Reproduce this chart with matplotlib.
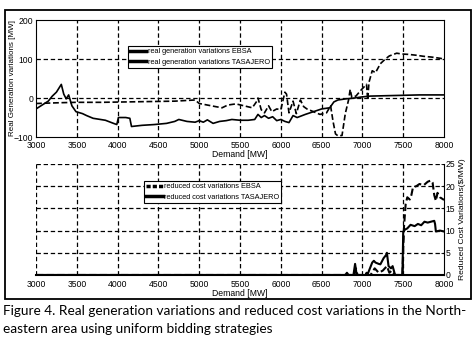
import matplotlib
matplotlib.use("Agg")
import matplotlib.pyplot as plt
from matplotlib.lines import Line2D
from matplotlib.patches import Rectangle

# --- dados ---
# painel superior: variações de geração real [MW]
dem_ebsa = [3000, 3150, 3300, 3500, 3800, 4100, 4400, 4700, 4950, 5000, 5100, 5200, 5280,
            5350, 5450, 5550, 5650, 5700, 5720, 5760, 5800, 5850, 5890, 5950, 6000, 6050,
            6070, 6100, 6150, 6190, 6240, 6280, 6320, 6400, 6480, 6560, 6610, 6640, 6670,
            6700, 6750, 6790, 6830, 6850, 6870, 6920, 6990, 7050, 7065, 7080, 7120, 7160,
            7220, 7280, 7330, 7420, 7480, 7560, 7650, 7750, 7850, 7950, 8000]
gen_ebsa = [-14, -13, -12, -11, -11, -10, -9, -8, -5, -14, -18, -22, -25,
            -18, -15, -20, -25, -10, 0, -30, -38, -20, -35, -28, -30, 15,
            10, -38, -8, -40, -5, -22, -28, -35, -42, -38, -20, -60, -92,
            -97, -96, -40, -5, 22, 2, 5, 22, 35, -5, 40, 70, 65,
            88, 100, 108, 115, 113, 112, 110, 107, 105, 102, 100]

dem_tasa = [3000, 3090, 3150, 3200, 3250, 3310, 3340, 3370, 3400, 3440, 3490, 3570, 3620,
            3700, 3850, 3950, 3990, 4010, 4100, 4150, 4170, 4300, 4450, 4600, 4700, 4750,
            4850, 4950, 5000, 5050, 5100, 5170, 5250, 5330, 5400, 5500, 5600, 5680, 5720,
            5760, 5800, 5850, 5900, 5950, 6000, 6050, 6100, 6150, 6200, 6300, 6400, 6500,
            6600, 6650, 6700, 6800, 6900, 7000, 7100, 7300, 7500, 7700, 8000]
gen_tasa = [-28, -16, -8, 5, 15, 35, 10, -2, 8, -20, -35, -40, -45,
            -52, -57, -65, -68, -50, -50, -52, -73, -70, -68, -65, -60, -55,
            -60, -62, -58, -62, -56, -65, -60, -58, -55, -57, -57, -55, -42,
            -50, -45, -52, -48, -58, -55, -60, -63, -45, -50, -42, -35, -28,
            -25, -10, -5, -2, 0, 3, 5, 6, 7, 8, 8]

# painel inferior: variações de custo reduzido [$/MW]
dem_cost_ebsa = [3000, 6800, 6900, 6920, 6940, 7100, 7150, 7200, 7250, 7300, 7330, 7360,
                 7400, 7490, 7510, 7530, 7550, 7580, 7600, 7620, 7660, 7700, 7750, 7800,
                 7840, 7860, 7880, 7900, 7920, 7950, 8000]
cost_ebsa = [0, 0, 0, 1.5, 0, 0, 1.5, 0.5, 1.0, 2.0, 0.5, 1.0,
             0, 0, 11, 16, 17.5, 17, 18, 19.8, 20.0, 20.5, 20.2, 21,
             21.3, 20.8, 18, 16.7, 18.5, 17.5, 16.9]

dem_cost_tasa = [3000, 6790, 6810, 6830, 6890, 6910, 6930, 7040, 7050, 7060, 7120, 7140,
                 7160, 7200, 7220, 7260, 7290, 7300, 7320, 7350, 7370, 7400, 7490, 7500,
                 7520, 7550, 7590, 7640, 7680, 7720, 7760, 7800, 7880, 7890, 7900, 7950, 8000]
cost_tasa = [0, 0, 0.5, 0, 0, 2.5, 0, 0, 0.5, 0, 2.8, 3.2,
             2.8, 2.5, 2.4, 3.8, 4.5, 5.0, 2.0, 1.5, 2.0, 0, 0, 9.7,
             10.2, 10.5, 11.3, 11.0, 11.5, 11.2, 12, 11.8, 12.2, 11.5, 9.8, 10.0, 9.8]

x_ticks = [3000, 3500, 4000, 4500, 5000, 5500, 6000, 6500, 7000, 7500, 8000]

fonte = ['Liberation Sans', 'DejaVu Sans']
grade = dict(color='black', linestyle=(0, (3.5, 2.2)), linewidth=0.9)
tam = 6.2
tam_leg = 5.3

fig = plt.figure(figsize=(4.75, 3.4), dpi=100)

# moldura externa
fig.patches.append(Rectangle((0.0105, 0.1206), 0.981, 0.85, transform=fig.transFigure,
                             fill=False, edgecolor='black', linewidth=1.3))

# --- painel superior ---
ax1 = fig.add_axes([0.0758, 0.597, 0.859, 0.344])
ax1.plot(dem_ebsa, gen_ebsa, color='black', linestyle=(0, (3.5, 1.6)), linewidth=1.2)
ax1.plot(dem_tasa, gen_tasa, color='black', linewidth=1.2)
ax1.set_xlim(3000, 8000)
ax1.set_ylim(-100, 200)
ax1.set_xticks(x_ticks)
ax1.set_yticks([-100, 0, 100, 200])
for xv in x_ticks[1:-1]:
    ax1.axvline(xv, zorder=0, **grade)
for yv in [0, 100]:
    ax1.axhline(yv, zorder=0, **grade)
ax1.tick_params(direction='in', length=2, width=0.6, labelsize=tam, pad=2)
ax1.tick_params(axis='x', pad=3)
for lb in ax1.get_xticklabels() + ax1.get_yticklabels():
    lb.set_family(fonte)
for s in ax1.spines.values():
    s.set_linewidth(0.8)
ax1.set_xlabel('Demand [MW]', fontsize=tam, family=fonte, labelpad=0)
ax1.set_ylabel('Real Generation variations [MW]', fontsize=5.8, family=fonte)
ax1.yaxis.set_label_coords(-0.048, 0.5)
h1 = [Line2D([], [], color='black', linewidth=2.5),
      Line2D([], [], color='black', linewidth=2.5)]
ax1.legend(h1, ['real generation variations EBSA', 'real generation variations TASAJERO'],
           loc='upper left', bbox_to_anchor=(0.2255, 0.778), borderaxespad=0,
           prop={'family': fonte, 'size': tam_leg}, fancybox=False, framealpha=1,
           edgecolor='black', handlelength=2.2, handletextpad=0.2, labelspacing=0.45,
           borderpad=0.3)
ax1.get_legend().get_frame().set_linewidth(0.8)

# --- painel inferior ---
ax2 = fig.add_axes([0.0758, 0.1912, 0.859, 0.3265])
ax2.plot(dem_cost_ebsa, cost_ebsa, color='black', linestyle=(0, (3.5, 1.6)), linewidth=1.5)
ax2.plot(dem_cost_tasa, cost_tasa, color='black', linewidth=1.5)
ax2.set_xlim(3000, 8000)
ax2.set_ylim(0, 25)
ax2.set_xticks(x_ticks)
ax2.set_yticks([0, 5, 10, 15, 20, 25])
for xv in x_ticks[:-1]:
    ax2.axvline(xv, zorder=0, **grade)
for yv in [5, 10, 15, 20, 25]:
    ax2.axhline(yv, zorder=0, **grade)
ax2.spines['top'].set_visible(False)
ax2.spines['left'].set_visible(False)
ax2.spines['right'].set_linewidth(0.8)
ax2.spines['bottom'].set_linewidth(1.5)
ax2.yaxis.tick_right()
ax2.yaxis.set_label_position('right')
ax2.tick_params(direction='in', length=2, width=0.6, labelsize=tam, pad=2)
ax2.tick_params(axis='x', pad=3.5)
ax2.tick_params(axis='y', pad=1)
for lb in ax2.get_xticklabels() + ax2.get_yticklabels():
    lb.set_family(fonte)
ax2.set_xlabel('Demand [MW]', fontsize=tam, family=fonte, labelpad=0)
ax2.set_ylabel('Reduced Cost Variations($/MW)', fontsize=6.1, family=fonte, labelpad=3)
h2 = [Line2D([], [], color='black', linewidth=2.5, linestyle=(0, (1.2, 0.6))),
      Line2D([], [], color='black', linewidth=2.5)]
ax2.legend(h2, ['reduced cost variations EBSA', 'reduced cost variations TASAJERO'],
           loc='upper left', bbox_to_anchor=(0.265, 0.847), borderaxespad=0,
           prop={'family': fonte, 'size': tam_leg}, fancybox=False, framealpha=1,
           edgecolor='black', handlelength=2.2, handletextpad=0.2, labelspacing=0.45,
           borderpad=0.3)
ax2.get_legend().get_frame().set_linewidth(0.8)

# legenda da figura
fig.text(0.006, 0.085, 'Figure 4. Real generation variations and reduced cost variations in the North-',
         fontsize=9.8, family=['Lato', 'DejaVu Sans'], va='center', ha='left')
fig.text(0.006, 0.032, 'eastern area using uniform bidding strategies',
         fontsize=9.8, family=['Lato', 'DejaVu Sans'], va='center', ha='left')

fig.savefig('out.png', dpi=100)
